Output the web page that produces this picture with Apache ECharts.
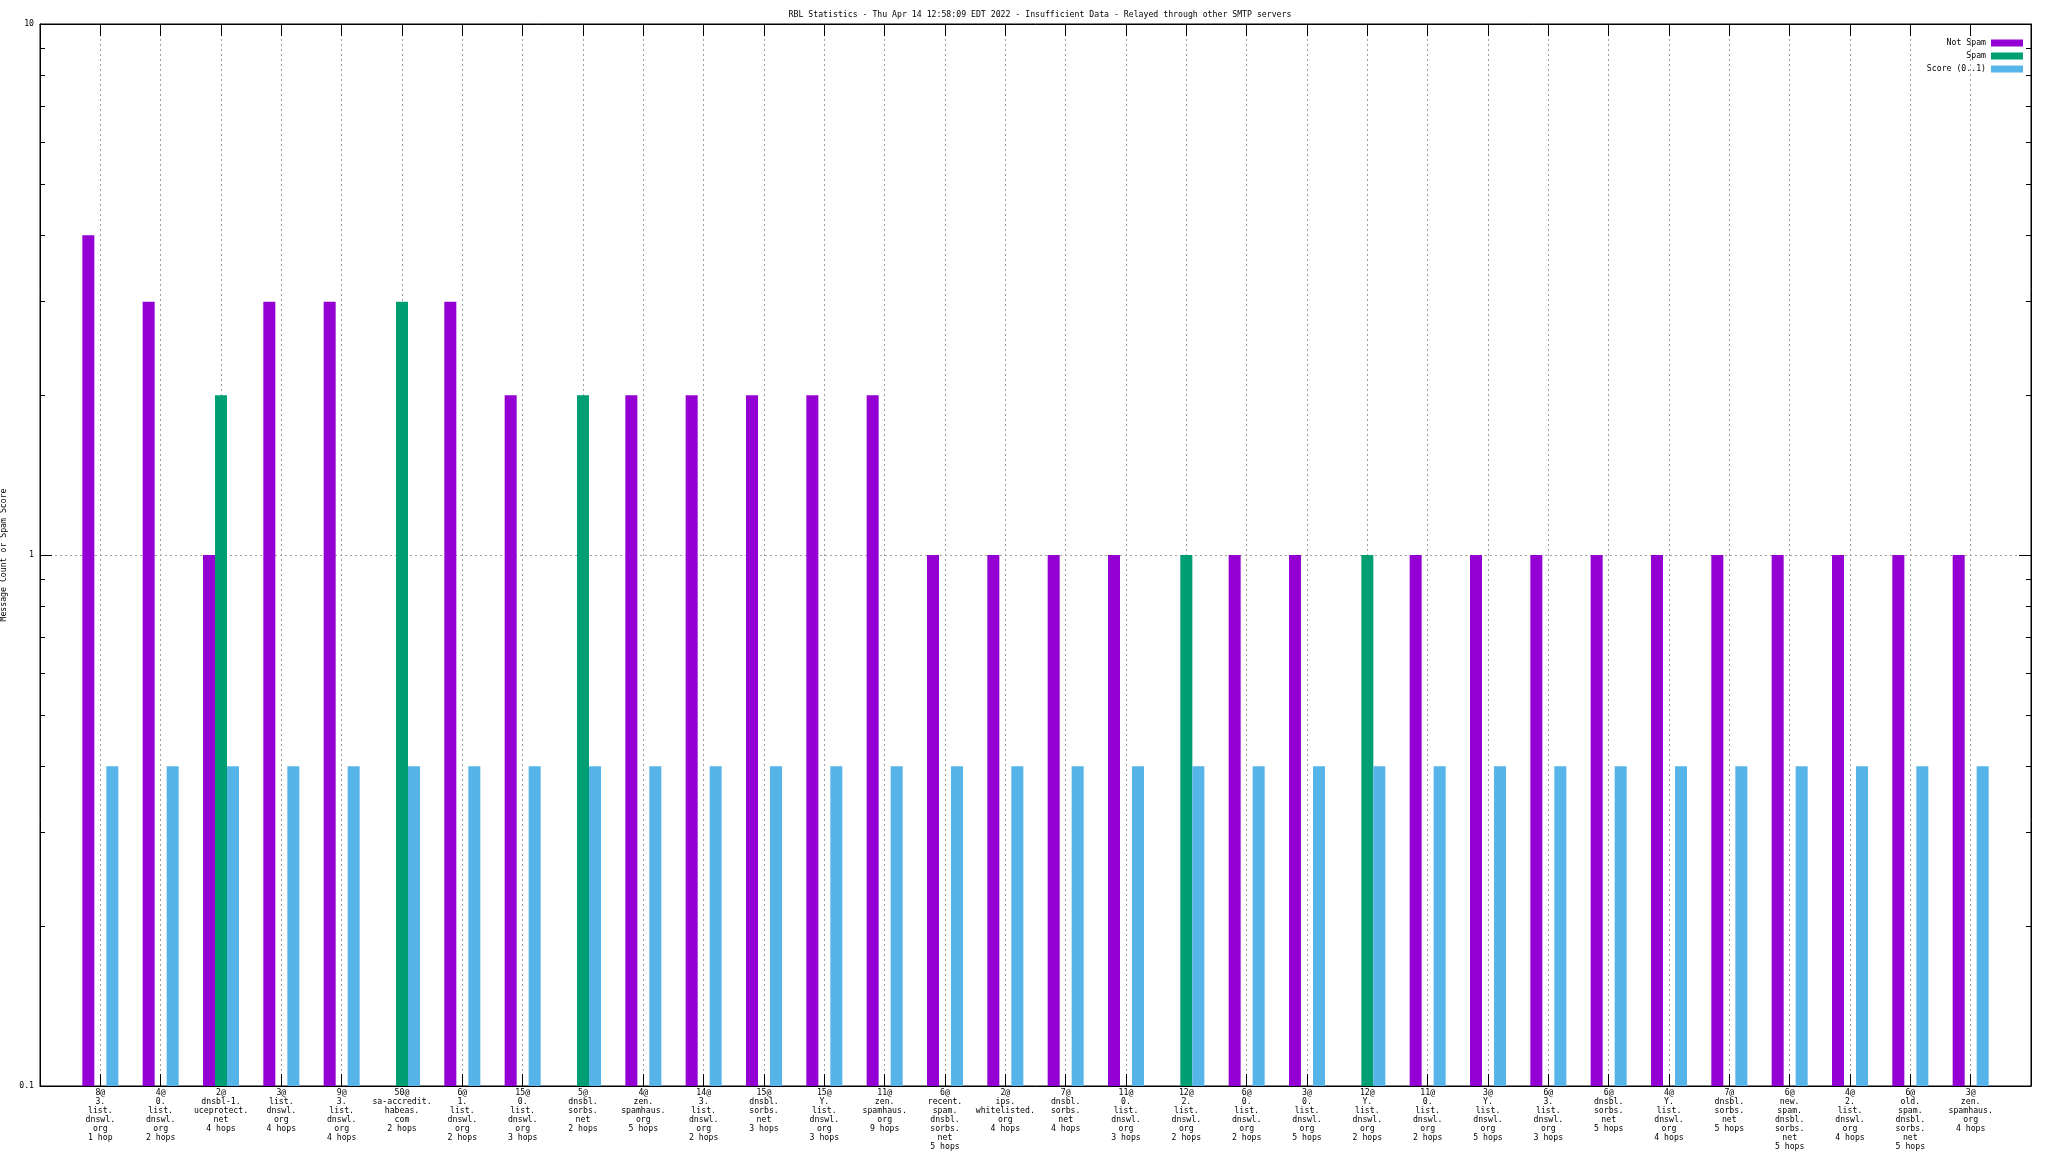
<!DOCTYPE html>
<html><head><meta charset="utf-8">
<script src="https://cdn.jsdelivr.net/npm/echarts@6/dist/echarts.min.js"></script>
<style>html,body{margin:0;padding:0;background:#fff}#c{width:2048px;height:1152px}</style>
</head><body><div id="c"></div>
<script>
const titleText = 'RBL Statistics - Thu Apr 14 12:58:09 EDT 2022 - Insufficient Data - Relayed through other SMTP servers';
const yAxisTitle = 'Message Count or Spam Score';
const seriesNames = ['Not Spam', 'Spam', 'Score (0..1)'];
const categories = [
  '8@\n3.\nlist.\ndnswl.\norg\n1 hop',
  '4@\n0.\nlist.\ndnswl.\norg\n2 hops',
  '2@\ndnsbl-1.\nuceprotect.\nnet\n4 hops',
  '3@\nlist.\ndnswl.\norg\n4 hops',
  '9@\n3.\nlist.\ndnswl.\norg\n4 hops',
  '50@\nsa-accredit.\nhabeas.\ncom\n2 hops',
  '6@\n1.\nlist.\ndnswl.\norg\n2 hops',
  '15@\n0.\nlist.\ndnswl.\norg\n3 hops',
  '5@\ndnsbl.\nsorbs.\nnet\n2 hops',
  '4@\nzen.\nspamhaus.\norg\n5 hops',
  '14@\n3.\nlist.\ndnswl.\norg\n2 hops',
  '15@\ndnsbl.\nsorbs.\nnet\n3 hops',
  '15@\nY.\nlist.\ndnswl.\norg\n3 hops',
  '11@\nzen.\nspamhaus.\norg\n9 hops',
  '6@\nrecent.\nspam.\ndnsbl.\nsorbs.\nnet\n5 hops',
  '2@\nips.\nwhitelisted.\norg\n4 hops',
  '7@\ndnsbl.\nsorbs.\nnet\n4 hops',
  '11@\n0.\nlist.\ndnswl.\norg\n3 hops',
  '12@\n2.\nlist.\ndnswl.\norg\n2 hops',
  '6@\n0.\nlist.\ndnswl.\norg\n2 hops',
  '3@\n0.\nlist.\ndnswl.\norg\n5 hops',
  '12@\nY.\nlist.\ndnswl.\norg\n2 hops',
  '11@\n0.\nlist.\ndnswl.\norg\n2 hops',
  '3@\nY.\nlist.\ndnswl.\norg\n5 hops',
  '6@\n3.\nlist.\ndnswl.\norg\n3 hops',
  '6@\ndnsbl.\nsorbs.\nnet\n5 hops',
  '4@\nY.\nlist.\ndnswl.\norg\n4 hops',
  '7@\ndnsbl.\nsorbs.\nnet\n5 hops',
  '6@\nnew.\nspam.\ndnsbl.\nsorbs.\nnet\n5 hops',
  '4@\n2.\nlist.\ndnswl.\norg\n4 hops',
  '6@\nold.\nspam.\ndnsbl.\nsorbs.\nnet\n5 hops',
  '3@\nzen.\nspamhaus.\norg\n4 hops'
];
const notSpam = [4,3,1,3,3,null,3,2,null,2,2,2,2,2,1,1,1,1,null,1,1,null,1,1,1,1,1,1,1,1,1,1];
const spam    = [null,null,2,null,null,3,null,null,2,null,null,null,null,null,null,null,null,null,1,null,null,1,null,null,null,null,null,null,null,null,null,null];
const score   = [0.4,0.4,0.4,0.4,0.4,0.4,0.4,0.4,0.4,0.4,0.4,0.4,0.4,0.4,0.4,0.4,0.4,0.4,0.4,0.4,0.4,0.4,0.4,0.4,0.4,0.4,0.4,0.4,0.4,0.4,0.4,0.4];
const yMin = 0.1, yMax = 10;
const yMinorTicks = [0.2,0.3,0.4,0.5,0.6,0.7,0.8,0.9,2,3,4,5,6,7,8,9];
const colors = ['#9400D3', '#009E73', '#56B4E9'];

const FONT = 'DejaVu Sans Mono';
const FS = 8.2;
const toPairs = arr => arr.map((v, i) => [i, v == null ? '-' : v]);
const xMin = -1, xMax = categories.length;

function xAxisDef(pos, showLabels) {
  return {
    type: 'value', position: pos, min: xMin, max: xMax, interval: 1,
    axisLine: { show: true, onZero: false, lineStyle: { color: '#000', width: 1 } },
    axisTick: { show: true, inside: true, length: 12, lineStyle: { color: '#000', width: 1 } },
    axisLabel: {
      show: showLabels, interval: 0, margin: 2, fontFamily: FONT, fontSize: FS, lineHeight: 9, color: '#000',
      formatter: v => (v >= 0 && v < categories.length) ? categories[v] : '',
      showMinLabel: true, showMaxLabel: true
    },
    splitLine: showLabels ? { show: true, showMinLine: false, showMaxLine: false, lineStyle: { color: '#a0a0a0', type: [2, 3], width: 1 } } : { show: false }
  };
}
function yAxisDef(pos, major) {
  const a = {
    type: 'log', logBase: 10, min: yMin, max: yMax, position: pos, startValue: yMin,
    axisLine: { show: major, onZero: false, lineStyle: { color: '#000', width: 1 } },
    axisTick: { show: true, inside: true, length: major ? 12 : 5, lineStyle: { color: '#000', width: 1 } },
    axisLabel: { show: false },
    splitLine: { show: false }
  };
  if (!major) a.axisTick.customValues = yMinorTicks;
  return a;
}
const yMain = yAxisDef('left', true);
yMain.axisLabel = { show: true, margin: 6, fontFamily: FONT, fontSize: FS, color: '#000', formatter: v => String(+v.toPrecision(3)) };
yMain.splitLine = { show: true, showMinLine: false, showMaxLine: false, lineStyle: { color: '#a0a0a0', type: [2, 3], width: 1 } };
yMain.name = yAxisTitle;
yMain.nameLocation = 'middle';
yMain.nameRotate = 90;
yMain.nameGap = 25;
yMain.nameTextStyle = { fontFamily: FONT, fontSize: FS, color: '#000' };

const legendTops = [39, 52, 65];
const chart = echarts.init(document.getElementById('c'), null, { renderer: 'canvas' });
chart.setOption({
  animation: false,
  backgroundColor: '#fff',
  color: colors,
  title: { text: titleText, left: 1035, textAlign: 'center', top: 6, textStyle: { fontFamily: FONT, fontSize: FS, fontWeight: 'normal', color: '#000' } },
  legend: seriesNames.map((n, i) => ({
    data: [n], right: 25, top: legendTops[i], orient: 'vertical', align: 'right',
    itemWidth: 32, itemHeight: 7, icon: 'rect', padding: 0, selectedMode: false,
    textStyle: { fontFamily: FONT, fontSize: FS, color: '#000', lineHeight: 7 }
  })),
  grid: { left: 40, right: 17, top: 24, bottom: 66, show: true, borderColor: '#000', borderWidth: 1, backgroundColor: 'transparent', containLabel: false, outerBoundsMode: 'none' },
  xAxis: [xAxisDef('bottom', true), xAxisDef('top', false)],
  yAxis: [yMain, yAxisDef('left', false), yAxisDef('right', true), yAxisDef('right', false)],
  series: [
    { name: seriesNames[0], type: 'bar', data: toPairs(notSpam), barWidth: 12, barGap: '0%', itemStyle: { color: colors[0] } },
    { name: seriesNames[1], type: 'bar', data: toPairs(spam), barWidth: 12, barGap: '0%', itemStyle: { color: colors[1] } },
    { name: seriesNames[2], type: 'bar', data: toPairs(score), barWidth: 12, barGap: '0%', itemStyle: { color: colors[2] } }
  ]
});
</script></body></html>
